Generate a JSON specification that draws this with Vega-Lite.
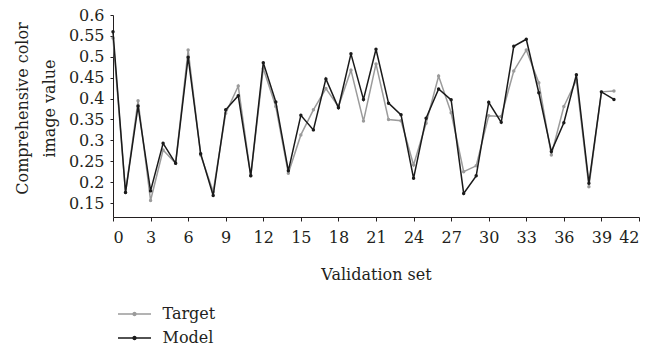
{
  "$schema": "https://vega.github.io/schema/vega-lite/v6.json",
  "width": 526,
  "height": 202,
  "autosize": {"type": "none"},
  "padding": {"left": 113, "top": 15, "right": 26, "bottom": 131},
  "background": "white",
  "config": {
    "view": {"stroke": null},
    "font": "DejaVu Serif",
    "axis": {"labelFont": "DejaVu Serif", "titleFont": "DejaVu Serif", "labelFontSize": 16, "titleFontSize": 16, "labelColor": "#231f20", "titleColor": "#231f20", "titleFontWeight": "normal", "domainColor": "#231f20", "tickColor": "#231f20", "grid": false},
    "legend": {"labelFont": "DejaVu Serif", "labelFontSize": 16, "labelColor": "#231f20"}
  },
  "data": {"values": [
    {"x":0,"s":"Target","v":0.545},{"x":1,"s":"Target","v":0.175},{"x":2,"s":"Target","v":0.395},{"x":3,"s":"Target","v":0.156},{"x":4,"s":"Target","v":0.277},{"x":5,"s":"Target","v":0.245},{"x":6,"s":"Target","v":0.516},{"x":7,"s":"Target","v":0.265},{"x":8,"s":"Target","v":0.177},{"x":9,"s":"Target","v":0.365},{"x":10,"s":"Target","v":0.430},{"x":11,"s":"Target","v":0.215},{"x":12,"s":"Target","v":0.472},{"x":13,"s":"Target","v":0.381},{"x":14,"s":"Target","v":0.221},{"x":15,"s":"Target","v":0.313},{"x":16,"s":"Target","v":0.373},{"x":17,"s":"Target","v":0.424},{"x":18,"s":"Target","v":0.381},{"x":19,"s":"Target","v":0.468},{"x":20,"s":"Target","v":0.346},{"x":21,"s":"Target","v":0.483},{"x":22,"s":"Target","v":0.350},{"x":23,"s":"Target","v":0.347},{"x":24,"s":"Target","v":0.241},{"x":25,"s":"Target","v":0.341},{"x":26,"s":"Target","v":0.454},{"x":27,"s":"Target","v":0.366},{"x":28,"s":"Target","v":0.225},{"x":29,"s":"Target","v":0.239},{"x":30,"s":"Target","v":0.359},{"x":31,"s":"Target","v":0.357},{"x":32,"s":"Target","v":0.466},{"x":33,"s":"Target","v":0.516},{"x":34,"s":"Target","v":0.438},{"x":35,"s":"Target","v":0.265},{"x":36,"s":"Target","v":0.381},{"x":37,"s":"Target","v":0.444},{"x":38,"s":"Target","v":0.189},{"x":39,"s":"Target","v":0.416},{"x":40,"s":"Target","v":0.418},
    {"x":0,"s":"Model","v":0.560},{"x":1,"s":"Model","v":0.175},{"x":2,"s":"Model","v":0.382},{"x":3,"s":"Model","v":0.179},{"x":4,"s":"Model","v":0.293},{"x":5,"s":"Model","v":0.245},{"x":6,"s":"Model","v":0.499},{"x":7,"s":"Model","v":0.268},{"x":8,"s":"Model","v":0.168},{"x":9,"s":"Model","v":0.373},{"x":10,"s":"Model","v":0.407},{"x":11,"s":"Model","v":0.215},{"x":12,"s":"Model","v":0.486},{"x":13,"s":"Model","v":0.392},{"x":14,"s":"Model","v":0.227},{"x":15,"s":"Model","v":0.360},{"x":16,"s":"Model","v":0.325},{"x":17,"s":"Model","v":0.447},{"x":18,"s":"Model","v":0.378},{"x":19,"s":"Model","v":0.507},{"x":20,"s":"Model","v":0.398},{"x":21,"s":"Model","v":0.518},{"x":22,"s":"Model","v":0.389},{"x":23,"s":"Model","v":0.361},{"x":24,"s":"Model","v":0.209},{"x":25,"s":"Model","v":0.353},{"x":26,"s":"Model","v":0.423},{"x":27,"s":"Model","v":0.397},{"x":28,"s":"Model","v":0.173},{"x":29,"s":"Model","v":0.215},{"x":30,"s":"Model","v":0.391},{"x":31,"s":"Model","v":0.343},{"x":32,"s":"Model","v":0.525},{"x":33,"s":"Model","v":0.542},{"x":34,"s":"Model","v":0.414},{"x":35,"s":"Model","v":0.273},{"x":36,"s":"Model","v":0.342},{"x":37,"s":"Model","v":0.457},{"x":38,"s":"Model","v":0.197},{"x":39,"s":"Model","v":0.416},{"x":40,"s":"Model","v":0.398}
  ]},
  "encoding": {
    "x": {"field": "x", "type": "quantitative", "scale": {"domain": [0, 42], "nice": false, "zero": false},
      "axis": {"values": [0,3,6,9,12,15,18,21,24,27,30,33,36,39,42], "tickSize": 4, "labelPadding": 8, "title": "Validation set", "titleX": 263, "titleY": 62, "titleBaseline": "alphabetic", "titleAnchor": null}},
    "y": {"field": "v", "type": "quantitative", "scale": {"domain": [0.1165, 0.6], "nice": false, "zero": false},
      "axis": {"values": [0.15,0.2,0.25,0.3,0.35,0.4,0.45,0.5,0.55,0.6], "format": ".2~f", "tickSize": 3, "labelPadding": 6, "title": ["Comprehensive color", "image value"], "titleX": -86, "titleY": 93, "titleBaseline": "alphabetic", "titleAlign": "center", "titleLineHeight": 27, "titleAngle": -90}},
    "color": {"field": "s", "type": "nominal", "scale": {"domain": ["Target", "Model"], "range": ["#9b9b9b", "#1a1a1a"]},
      "legend": {"title": null, "orient": "none", "legendX": 13.5, "legendY": 291, "direction": "vertical", "symbolType": "M-3.3,0H3.3M-0.3,0a0.3,0.3 0 1,0 0.6,0a0.3,0.3 0 1,0 -0.6,0", "symbolSize": 100, "symbolStrokeWidth": 1.5, "labelOffset": 20, "rowPadding": 8, "labelFontSize": 16}}
  },
  "layer": [
    {"transform": [{"filter": "datum.s === 'Target'"}], "mark": {"type": "line", "strokeWidth": 1.5, "point": {"filled": true, "size": 12}}},
    {"transform": [{"filter": "datum.s === 'Model'"}], "mark": {"type": "line", "strokeWidth": 1.5, "point": {"filled": true, "size": 12}}}
  ]
}
